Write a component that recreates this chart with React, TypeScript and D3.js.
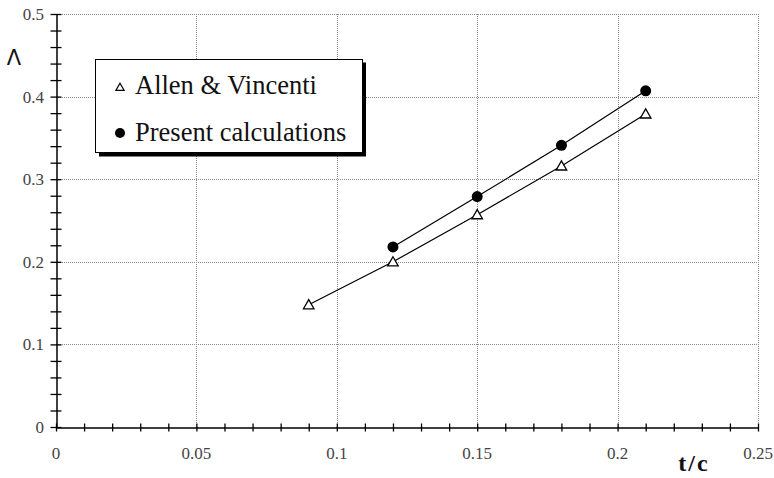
import React, { useEffect, useRef } from 'react';
import * as d3 from 'd3';

const thickness = [0.09, 0.12, 0.15, 0.18, 0.21];
const allenVincenti = [0.148, 0.2, 0.257, 0.316, 0.379];
const presentX = [0.12, 0.15, 0.18, 0.21];
const presentCalc = [0.218, 0.279, 0.341, 0.407];
const xTicks = [0, 0.05, 0.1, 0.15, 0.2, 0.25];
const yTicks = [0, 0.1, 0.2, 0.3, 0.4, 0.5];

const W = 774;
const H = 478;
const serif = 'Liberation Serif, DejaVu Serif, serif';

function draw(node: SVGSVGElement) {
  const svg = d3.select(node);
  svg.selectAll('*').remove();

  const x = d3.scaleLinear().domain([0, 0.25]).range([56, 758]);
  const y = d3.scaleLinear().domain([0, 0.5]).range([427, 14]);

  // grid
  const grid = svg.append('g').attr('stroke', '#8a8a8a').attr('stroke-width', 1).attr('stroke-dasharray', '1,1');
  grid
    .selectAll('line.gx')
    .data(xTicks.slice(1))
    .join('line')
    .attr('x1', (d) => Math.round(x(d)) + 0.5)
    .attr('x2', (d) => Math.round(x(d)) + 0.5)
    .attr('y1', y(0))
    .attr('y2', y(0.5));
  grid
    .selectAll('line.gy')
    .data(yTicks.slice(1))
    .join('line')
    .attr('x1', x(0))
    .attr('x2', x(0.25))
    .attr('y1', (d) => Math.round(y(d)) + 0.5)
    .attr('y2', (d) => Math.round(y(d)) + 0.5);

  // x axis
  svg
    .append('g')
    .attr('transform', `translate(0,${Math.round(y(0)) + 0.5})`)
    .call(
      d3
        .axisBottom(x)
        .tickValues(d3.range(0, 0.2501, 0.01))
        .tickSizeInner(4)
        .tickSizeOuter(0)
        .tickFormat(() => ''),
    )
    .call((g) => g.select('.domain').attr('stroke', '#000').attr('stroke-width', 1.5))
    .call((g) => g.selectAll('.tick line').attr('y1', -4).attr('stroke', '#000').attr('stroke-width', 1.3));

  svg
    .append('g')
    .style('font-family', serif)
    .attr('font-size', 17)
    .attr('fill', '#444')
    .attr('text-anchor', 'middle')
    .selectAll('text')
    .data(xTicks)
    .join('text')
    .attr('x', (d) => x(d))
    .attr('y', 459)
    .text((d) => String(d));

  // y axis
  svg
    .append('g')
    .attr('transform', `translate(${Math.round(x(0)) + 0.5},0)`)
    .call(
      d3
        .axisLeft(y)
        .tickValues(d3.range(0, 0.5001, 0.02))
        .tickSizeInner(5)
        .tickSizeOuter(0)
        .tickFormat(() => ''),
    )
    .call((g) => g.select('.domain').attr('stroke', '#000').attr('stroke-width', 1.5))
    .call((g) => g.selectAll('.tick line').attr('x1', 5).attr('x2', -6).attr('stroke', '#000').attr('stroke-width', 1.3));

  svg
    .append('g')
    .style('font-family', serif)
    .attr('font-size', 17)
    .attr('fill', '#444')
    .attr('text-anchor', 'end')
    .selectAll('text')
    .data(yTicks)
    .join('text')
    .attr('x', 44)
    .attr('y', (d) => y(d))
    .attr('dy', '0.35em')
    .text((d) => String(d));

  // axis titles
  svg
    .append('text')
    .attr('x', 694)
    .attr('y', 471)
    .attr('text-anchor', 'middle')
    .style('font-family', serif)
    .attr('font-weight', 'bold')
    .attr('font-size', 24)
    .attr('letter-spacing', 2)
    .attr('fill', '#111')
    .text('t/c');
  svg
    .append('text')
    .attr('x', 14)
    .attr('y', 65)
    .attr('text-anchor', 'middle')
    .style('font-family', 'DejaVu Sans, sans-serif')
    .attr('font-size', 21)
    .attr('fill', '#111')
    .text('Λ');

  const line = d3
    .line<[number, number]>()
    .x((d) => x(d[0]))
    .y((d) => y(d[1]));

  const allen: [number, number][] = thickness.map((t, i) => [t, allenVincenti[i]]);
  const present: [number, number][] = presentX.map((t, i) => [t, presentCalc[i]]);

  svg.append('path').datum(allen).attr('d', line).attr('fill', 'none').attr('stroke', '#000').attr('stroke-width', 1.2);
  svg.append('path').datum(present).attr('d', line).attr('fill', 'none').attr('stroke', '#000').attr('stroke-width', 1.2);

  const tri = d3.symbol().type(d3.symbolTriangle).size(48);
  svg
    .append('g')
    .selectAll('path')
    .data(allen)
    .join('path')
    .attr('d', tri)
    .attr('transform', (d) => `translate(${x(d[0])},${y(d[1]) + 1})`)
    .attr('fill', '#fff')
    .attr('stroke', '#000')
    .attr('stroke-width', 1.3);
  svg
    .append('g')
    .selectAll('circle')
    .data(present)
    .join('circle')
    .attr('cx', (d) => x(d[0]))
    .attr('cy', (d) => y(d[1]))
    .attr('r', 5.5)
    .attr('fill', '#000');

  // legend
  const lg = svg.append('g');
  lg.append('rect').attr('x', 99).attr('y', 62.5).attr('width', 267).attr('height', 94).attr('fill', '#000');
  lg.append('rect')
    .attr('x', 95.5)
    .attr('y', 59.5)
    .attr('width', 267)
    .attr('height', 93)
    .attr('fill', '#fff')
    .attr('stroke', '#000')
    .attr('stroke-width', 1);
  lg.append('path')
    .attr('d', d3.symbol().type(d3.symbolTriangle).size(30)())
    .attr('transform', 'translate(120,88)')
    .attr('fill', '#fff')
    .attr('stroke', '#000')
    .attr('stroke-width', 1.2);
  lg.append('circle').attr('cx', 120).attr('cy', 133).attr('r', 5).attr('fill', '#000');
  lg.append('text')
    .attr('x', 135)
    .attr('y', 94)
    .style('font-family', serif)
    .attr('font-size', 26.5)
    .attr('fill', '#111')
    .text('Allen & Vincenti');
  lg.append('text')
    .attr('x', 135)
    .attr('y', 141)
    .style('font-family', serif)
    .attr('font-size', 26.5)
    .attr('fill', '#111')
    .text('Present calculations');
}

export default function App() {
  const ref = useRef<SVGSVGElement>(null);
  useEffect(() => {
    if (ref.current) draw(ref.current);
  }, []);
  return (
    <svg
      ref={ref}
      width={W}
      height={H}
      style={{ position: 'absolute', left: 0, top: 0, background: '#fff' }}
    />
  );
}
